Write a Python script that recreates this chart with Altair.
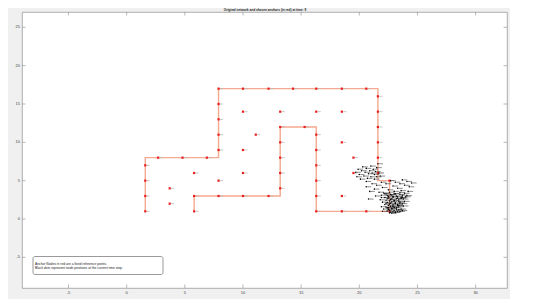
import altair as alt
import pandas as pd

# ---------------- data ----------------
title_text = "Original network and chosen anchors (in red) at time: 9"
note_text = ("Anchor Nodes in red are a fixed reference points.\n"
             "Black dots represent node positions at the current time step.")

x_ticks = [-5, 0, 5, 10, 15, 20, 25, 30]
y_ticks = [-5, 0, 5, 10, 15, 20, 25]
x_domain = [-9, 32.7]
y_domain = [-9, 27]

# network outline (red line)
path_x = [5.8, 5.8, 13.2, 13.2, 16.3, 16.3, 22.6, 22.6, 21.6, 21.6, 7.9, 7.9, 1.6, 1.6]
path_y = [1, 3, 3, 12, 12, 1, 1, 5, 5, 17, 17, 8, 8, 1]

# anchor nodes (red markers)
anchor_x = [1.6, 1.6, 1.6, 1.6, 2.7, 4.8, 6.9,
            7.9, 7.9, 7.9, 7.9, 7.9,
            10.0, 12.2, 14.3, 16.3, 18.5, 20.6,
            21.6, 21.6, 21.6, 21.6, 21.6, 21.6, 22.6,
            16.3, 18.5, 20.6, 22.6,
            16.3, 16.3, 16.3, 16.3, 16.3,
            15.3, 13.2, 13.2, 13.2, 13.2, 13.2,
            12.2, 10.0, 7.9, 5.8, 5.8,
            3.7, 3.7, 5.8, 10.0, 13.2, 11.1, 10.0, 7.9, 10.0,
            16.3, 18.5, 18.5, 19.5, 19.5, 18.5]
anchor_y = [1, 3, 5, 7, 8, 8, 8,
            9, 11, 13, 15, 17,
            17, 17, 17, 17, 17, 17,
            16, 14, 12, 10, 8, 6, 5,
            1, 1, 1, 1,
            3, 5, 7, 9, 11,
            12, 12, 10, 8, 6, 4,
            3, 3, 3, 3, 1,
            4, 2, 6, 14, 14, 11, 9, 5, 6,
            14, 14, 10, 8, 6, 3]

# current node positions (black dots)
node_x = [19.7, 19.9, 20.0, 20.2, 20.3, 20.4, 20.5, 20.6, 20.7, 20.8, 20.9, 21.0, 21.0,
          21.1, 21.2, 21.3, 21.3, 21.4, 21.5, 21.5, 21.6, 21.7, 20.1, 19.8, 21.8, 20.6,
          20.6, 20.9, 21.1, 21.3, 21.5, 21.7, 21.9, 22.0, 22.3, 22.5, 22.7, 22.9, 23.1,
          23.3, 23.5, 23.7, 23.9, 24.1, 24.3, 24.5, 23.0, 23.6, 24.2, 22.2, 21.4, 20.8, 21.9,
          22.1, 22.6, 23.0, 23.5, 23.9,
          21.9, 22.4, 22.8, 23.2, 23.7, 24.1,
          22.2, 22.5, 22.9, 23.3, 23.6, 24.0,
          21.8, 22.3, 22.7, 23.0, 23.4, 23.8,
          22.0, 22.4, 22.8, 23.1, 23.5, 23.9,
          22.2, 22.6, 22.9, 23.3, 23.7,
          21.9, 22.3, 22.7, 23.0, 23.4, 23.8,
          22.1, 22.5, 22.8, 23.2, 23.6,
          22.0, 22.4, 22.9, 23.3, 23.7,
          22.6, 23.1, 22.5, 23.4, 22.8,
          22.3, 22.7, 23.1, 23.5, 22.5, 22.9, 23.3, 23.7,
          22.4, 22.8, 23.2, 23.6, 22.6, 23.0, 23.4, 22.3,
          22.7, 23.1, 23.5, 22.5, 22.9, 23.3, 22.4, 22.8,
          23.2, 22.6, 23.0, 23.4, 22.7, 23.1, 22.9, 23.5]
node_y = [6.1, 6.5, 5.8, 6.3, 6.8, 5.6, 6.1, 6.6, 5.3, 5.9, 6.3, 6.9, 5.5,
          6.0, 6.5, 5.2, 5.8, 6.2, 6.7, 5.5, 7.2, 6.0, 5.2, 5.5, 5.6, 4.9,
          4.2, 3.6, 4.6, 3.9, 4.4, 3.5, 4.8, 4.1, 4.6, 3.8, 5.0, 4.3, 4.8,
          4.0, 4.6, 5.1, 4.4, 4.9, 4.2, 4.7, 3.6, 3.7, 3.6, 3.3, 3.0, 2.6, 2.8,
          3.4, 3.5, 3.3, 3.45, 3.35,
          3.1, 3.05, 3.15, 3.0, 3.1, 3.05,
          2.8, 2.75, 2.85, 2.7, 2.8, 2.9,
          2.5, 2.45, 2.55, 2.4, 2.5, 2.6,
          2.2, 2.15, 2.25, 2.1, 2.2, 2.3,
          1.9, 1.95, 1.85, 1.9, 2.0,
          1.6, 1.55, 1.65, 1.5, 1.6, 1.7,
          1.3, 1.25, 1.35, 1.2, 1.3,
          1.0, 1.05, 0.95, 1.0, 1.1,
          0.8, 0.85, 1.45, 1.75, 0.75,
          3.25, 3.2, 3.3, 3.2, 2.95, 2.95, 2.9, 2.85,
          2.65, 2.6, 2.65, 2.7, 2.35, 2.35, 2.3, 2.05,
          2.05, 2.0, 2.05, 1.75, 1.7, 1.75, 1.45, 1.4,
          1.45, 1.15, 1.15, 1.2, 0.9, 0.9, 1.6, 1.0]

# ---------------- chart ----------------
W, H = 485, 276
xs = alt.Scale(domain=x_domain, nice=False, zero=False)
ys = alt.Scale(domain=y_domain, nice=False, zero=False)
AX = "#9a9a9a"
LBL = "#404040"
FONT = "Liberation Sans"

path_df = pd.DataFrame({"x": path_x, "y": path_y, "o": list(range(len(path_x)))})
anchor_df = pd.DataFrame({"x": anchor_x, "y": anchor_y})
node_df = pd.DataFrame({"x": node_x, "y": node_y})
xt_df = pd.DataFrame({"x": x_ticks, "lab": [str(v) for v in x_ticks]})
yt_df = pd.DataFrame({"y": y_ticks, "lab": [str(v) for v in y_ticks]})
one = pd.DataFrame({"t": [title_text]})
note_df = pd.DataFrame({"t": [note_text]})


def X(f="x:Q"):
    return alt.X(f, scale=xs, axis=None)


def Y(f="y:Q"):
    return alt.Y(f, scale=ys, axis=None)


line = alt.Chart(path_df).mark_line(color="#f6a890", strokeWidth=1.4).encode(
    x=X(), y=Y(), order="o:Q")

anchor_lbl = alt.Chart(anchor_df).mark_rule(color="#b8b8b8", strokeWidth=0.8,
                                            xOffset=1.5, x2Offset=4.5).encode(
    x=X(), x2="x:Q", y=Y())
anchors = alt.Chart(anchor_df).mark_point(shape="square", filled=True, color="#e82020",
                                          size=5, opacity=1).encode(x=X(), y=Y())

node_lbl = alt.Chart(node_df).mark_rule(color="#404040", strokeWidth=0.8, opacity=0.75,
                                        xOffset=1, x2Offset=5).encode(
    x=X(), x2="x:Q", y=Y())
nodes = alt.Chart(node_df).mark_circle(color="black", size=2.5, opacity=1).encode(
    x=X(), y=Y())

TL = 3.5
tick_b = alt.Chart(xt_df).mark_rule(color=AX, strokeWidth=0.7).encode(
    x=X(), y=alt.value(H), y2=alt.value(H - TL))
tick_t = alt.Chart(xt_df).mark_rule(color=AX, strokeWidth=0.7).encode(
    x=X(), y=alt.value(0), y2=alt.value(TL))
tick_l = alt.Chart(yt_df).mark_rule(color=AX, strokeWidth=0.7).encode(
    y=Y(), x=alt.value(0), x2=alt.value(TL))
tick_r = alt.Chart(yt_df).mark_rule(color=AX, strokeWidth=0.7).encode(
    y=Y(), x=alt.value(W), x2=alt.value(W - TL))

xlab = alt.Chart(xt_df).mark_text(fontSize=4.0, color=LBL, font=FONT,
                                  baseline="middle", align="center").encode(
    x=X(), y=alt.value(H + 4.5), text="lab:N")
ylab = alt.Chart(yt_df).mark_text(fontSize=4.0, color=LBL, font=FONT,
                                  baseline="middle", align="right").encode(
    y=Y(), x=alt.value(-2), text="lab:N")

title = alt.Chart(one).mark_text(fontSize=3.15, fontWeight="bold", color="#222",
                                 font=FONT, baseline="middle", align="center").encode(
    text="t:N", x=alt.value(W / 2 + 0.5), y=alt.value(-2))

note_box = alt.Chart(one).mark_rect(fill="white", stroke="#555", strokeWidth=0.6,
                                    cornerRadius=2).encode(
    x=alt.value(11), x2=alt.value(141), y=alt.value(244.5), y2=alt.value(262.5))
note = alt.Chart(note_df).mark_text(fontSize=3.3, color="#222", font=FONT,
                                    align="left", baseline="middle", lineBreak="\n",
                                    lineHeight=4.7).encode(
    text="t:N", x=alt.value(13), y=alt.value(251.8))

chart = alt.layer(
    line, anchor_lbl, anchors, node_lbl, nodes,
    tick_b, tick_t, tick_l, tick_r, xlab, ylab, title, note_box, note
).properties(
    width=W, height=H,
    padding={"left": 14, "top": 4, "right": 3, "bottom": 11},
    autosize=alt.AutoSizeParams(type="none"),
    background="#f0f0f0",
).configure_view(
    fill="white", stroke=AX, strokeWidth=0.8
)

chart.save("out.html", embed_options={"renderer": "svg", "actions": False})
